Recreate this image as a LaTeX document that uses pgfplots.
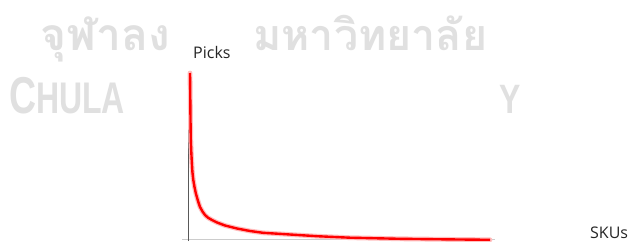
\documentclass[border=0pt]{standalone}
\usepackage{pgfplots}
\pgfplotsset{compat=1.18}
\usepackage{fontspec}
\setmainfont{Open Sans}
\newfontfamily\thaifont[Script=Thai]{Loma}
\newfontfamily\wmfont{Liberation Sans}
\definecolor{wm}{HTML}{E0E0E0}
\definecolor{lab}{HTML}{262626}
\begin{document}
\begin{tikzpicture}[x=1pt,y=1pt]
\useasboundingbox (0,0) rectangle (628,241);
\fill[white] (0,0) rectangle (628,241);
% watermark
\node[anchor=base west, inner sep=0pt, text=wm] at (40,190)
  {\resizebox{130pt}{!}{\thaifont\bfseries จุฬาลง}};
\node[anchor=base west, inner sep=0pt, text=wm] at (253,190)
  {\resizebox{234pt}{!}{\thaifont\bfseries มหาวิทยาลัย}};
\node[anchor=base west, inner sep=0pt, text=wm] at (9,127)
  {\wmfont\bfseries\scalebox{0.78}[1.08]{\fontsize{48}{48}\selectfont C\fontsize{41}{41}\selectfont HULAL}};
\node[anchor=base west, inner sep=0pt, text=wm] at (499,127)
  {\wmfont\bfseries\scalebox{0.78}[1]{\fontsize{41}{41}\selectfont Y}};
% white box covering the watermark
\fill[white] (127,241-60) rectangle (497,0);
% axis lines
\draw[color=black!20, line width=0.8pt] (182,1.5) -- (495,1.5);
\draw[color=black!65, line width=0.9pt] (188.5,0) -- (188.5,241-73);
\begin{axis}[
  at={(189pt,1pt)}, anchor=south west,
  scale only axis, width=308pt, height=168pt,
  xmin=0, xmax=308, ymin=0, ymax=168,
  axis lines=none, ticks=none, clip=false,
]
\addplot[color=red!25, line width=4.8pt, line join=round, line cap=round] coordinates {
(1,167) (1.2,150) (1.3,140) (1.5,120) (1.8,100) (2.3,88) (2.8,78) (3.4,68) (4.3,60) (5.5,53) (7,46) (9,39) (11,33) (13.5,28.5) (16,25) (19,22.3) (23,20) (28,17.5) (36,14.5) (48,11.5) (61,9) (74,7.2) (101,5.5) (128,3.8) (161,2.3) (211,1.2) (261,0.6) (301,0.2)
};
\addplot[color=red, line width=2.4pt, line join=round] coordinates {
(1,167) (1.2,150) (1.3,140) (1.5,120) (1.8,100) (2.3,88) (2.8,78) (3.4,68) (4.3,60) (5.5,53) (7,46) (9,39) (11,33) (13.5,28.5) (16,25) (19,22.3) (23,20) (28,17.5) (36,14.5) (48,11.5) (61,9) (74,7.2) (101,5.5) (128,3.8) (161,2.3) (211,1.2) (261,0.6) (301,0.2)
};
\end{axis}
\node[anchor=base west, inner sep=0pt, text=lab, font=\fontsize{16}{16}\selectfont] at (193,182) {Picks};
\node[anchor=base west, inner sep=0pt, text=lab, font=\fontsize{16}{16}\selectfont] at (590,3) {SKUs};
\end{tikzpicture}
\end{document}
